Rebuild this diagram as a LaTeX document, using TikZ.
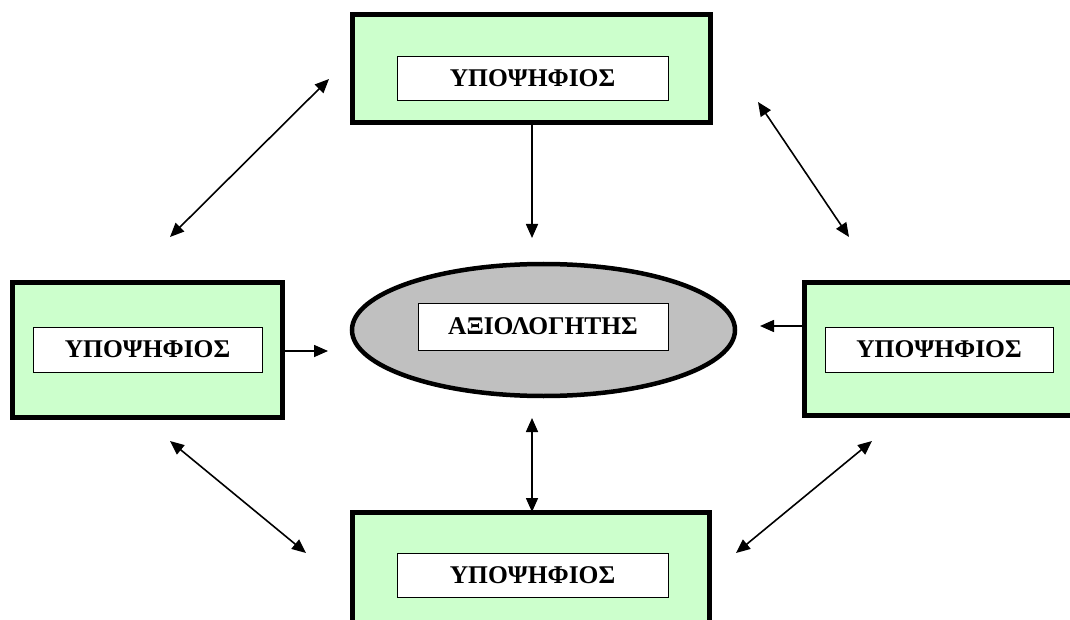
\documentclass[tikz,border=0pt]{standalone}
\usepackage{fontspec}
\setmainfont{Liberation Serif}
\usetikzlibrary{arrows.meta,shapes.geometric}
\definecolor{candfill}{HTML}{CCFFCC}
\definecolor{evalfill}{HTML}{C0C0C0}
\begin{document}
\begin{tikzpicture}[x=1pt,y=-1pt,
  candbox/.style={draw=black,line width=5pt,fill=candfill,inner sep=0pt},
  labelbox/.style={draw=black,line width=0.8pt,fill=white,inner sep=0pt,
    font=\fontsize{25.5}{28}\selectfont\bfseries},
  evalnode/.style={ellipse,draw=black,line width=4.5pt,fill=evalfill,inner sep=0pt},
  link/.style={line width=1.6pt,-{Triangle[length=14pt,width=12pt]}},
  duallink/.style={line width=1.6pt,{Triangle[length=14pt,width=12pt]}-{Triangle[length=14pt,width=12pt]}}]
\useasboundingbox (0,0) rectangle (1070,620);
\clip (0,0) rectangle (1070,620);

% candidate boxes
\node[candbox,minimum width=358pt,minimum height=108pt] (top) at (531.5,68.5) {};
\node[labelbox,minimum width=271pt,minimum height=44pt] (topL) at (532.5,78) {ΥΠΟΨΗΦΙΟΣ};

\node[candbox,minimum width=270pt,minimum height=135pt] (left) at (147.5,350) {};
\node[labelbox,minimum width=229pt,minimum height=45pt] (leftL) at (147.5,349.5) {ΥΠΟΨΗΦΙΟΣ};

\node[candbox,minimum width=270pt,minimum height=133pt] (right) at (939.5,349) {};
\node[labelbox,minimum width=228pt,minimum height=45pt] (rightL) at (939,349.5) {ΥΠΟΨΗΦΙΟΣ};

\node[candbox,minimum width=357pt,minimum height=114pt] (bottom) at (531,569.5) {};
\node[labelbox,minimum width=271pt,minimum height=44pt] (bottomL) at (532.5,575) {ΥΠΟΨΗΦΙΟΣ};

% evaluator
\node[evalnode,minimum width=383pt,minimum height=132pt] (eval) at (543.5,330) {};
\node[labelbox,minimum width=250pt,minimum height=47pt] (evalL) at (543,326.5) {ΑΞΙΟΛΟΓΗΤΗΣ};

% free arrow ends
\coordinate (topEnd) at (532,238);
\coordinate (leftEnd) at (328,351);
\coordinate (rightEnd) at (760,326);
\coordinate (midEnd) at (532,418);
\coordinate (tlA) at (170,237);
\coordinate (tlB) at (329,79);
\coordinate (trA) at (758,102);
\coordinate (trB) at (849,237);
\coordinate (blA) at (170,441);
\coordinate (blB) at (306,553);
\coordinate (brA) at (872,441);
\coordinate (brB) at (736,553);

% connectors
\draw[link] (top.south -| topEnd) -- (topEnd);
\draw[link] (left.east |- leftEnd) -- (leftEnd);
\draw[link] (right.west |- rightEnd) -- (rightEnd);
\draw[duallink] (midEnd) -- ([yshift=-2pt]bottom.north -| midEnd);
\draw[duallink] (tlA) -- (tlB);
\draw[duallink] (trA) -- (trB);
\draw[duallink] (blA) -- (blB);
\draw[duallink] (brA) -- (brB);
\end{tikzpicture}
\end{document}
